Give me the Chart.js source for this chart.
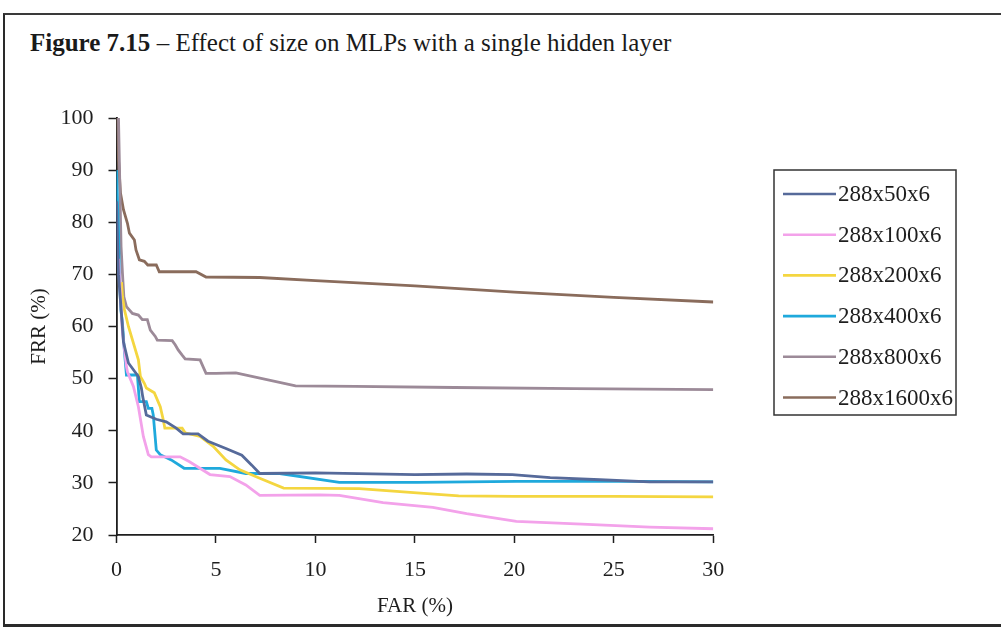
<!DOCTYPE html>
<html>
<head>
<meta charset="utf-8">
<script src="https://cdn.jsdelivr.net/npm/chart.js@4.4.1/dist/chart.umd.min.js"></script>
<style>
  html, body { margin: 0; padding: 0; background: #fff; }
  #page { position: relative; width: 1001px; height: 628px; overflow: hidden; background: #fff; }
  #frame { position: absolute; left: 3px; top: 13px; width: 1010px; height: 609px;
           border-left: 2px solid #2a2a2a; border-top: 2px solid #3a3a3a; border-bottom: 3px solid #2a2a2a; }
  #title { position: absolute; left: 30px; top: 29px; font-family: "Liberation Serif", serif;
           font-size: 25px; color: #1a1a1a; white-space: nowrap; }
  #title b { font-weight: bold; }
  canvas { position: absolute; left: 0; top: 0; }
</style>
</head>
<body>
<div id="page">
  <div id="frame"></div>
  <div id="title"><b>Figure 7.15</b> – Effect of size on MLPs with a single hidden layer</div>
  <canvas id="c" width="1001" height="628"></canvas>
</div>
<script>
// FAR (%) / FRR (%) operating points for each network size
const seriesLabels = ['288x50x6', '288x100x6', '288x200x6', '288x400x6', '288x800x6', '288x1600x6'];

const mlp50 = [[0,84],[0.1,70],[0.2,65],[0.35,57],[0.6,53],[1.1,50.4],[1.25,48.2],[1.32,46.5],[1.5,43],[2.0,42.2],[2.5,41.7],[3.0,40.5],[3.35,39.4],[4.1,39.4],[4.6,38],[5.5,36.6],[6.3,35.3],[6.8,33.4],[7.2,31.8],[10,31.9],[15,31.6],[17.6,31.7],[19.9,31.6],[21.8,31],[24.3,30.6],[26.8,30.2],[30,30.2]];
const mlp100 = [[0.1,73],[0.15,69],[0.2,66],[0.3,58.8],[0.5,52.3],[0.55,51.3],[0.85,48.5],[1.1,44.6],[1.35,38.9],[1.6,35.4],[1.75,35],[3.2,35],[3.65,34.1],[4.7,31.6],[5.7,31.2],[6.5,29.6],[7.2,27.6],[10.2,27.7],[11.2,27.6],[13.4,26.2],[15.9,25.3],[17.6,24.1],[20.1,22.6],[23.4,22.1],[26.8,21.5],[30,21.2]];
const mlp200 = [[0.25,68.5],[0.3,65.7],[0.4,63.2],[0.6,60],[0.85,56.8],[1.1,53.6],[1.2,50.4],[1.4,49.1],[1.5,48.2],[1.9,47.3],[2.2,44.6],[2.35,42.1],[2.43,40.5],[3.3,40.5],[3.45,39.6],[4.2,38.9],[4.86,37],[5.5,34.4],[6.2,32.5],[7.2,30.9],[8.4,29],[12.2,28.9],[15.1,28.1],[17.2,27.5],[20,27.4],[25,27.4],[30,27.3]];
const mlp400 = [[0,90],[0.05,84],[0.1,78.5],[0.15,69],[0.22,63.2],[0.3,60.6],[0.38,56.1],[0.5,50.7],[1.05,50.7],[1.15,45.6],[1.5,45.6],[1.6,44.3],[1.78,44.3],[1.85,43],[2.0,36.3],[2.2,35.4],[2.75,34.4],[3.4,32.8],[5.2,32.8],[6.5,31.8],[8.2,31.8],[11.2,30.1],[15.1,30.1],[20.1,30.3],[26.2,30.3],[30,30.2]];
const mlp800 = [[0.1,100],[0.23,75.3],[0.3,70.2],[0.37,65.7],[0.5,63.8],[0.8,62.5],[1.1,62.2],[1.3,61.3],[1.55,61.3],[1.7,59.3],[1.95,58.1],[2.05,57.4],[2.8,57.3],[2.95,56.5],[3.1,55.5],[3.3,54.5],[3.45,53.8],[4.2,53.6],[4.5,51],[5.0,51],[6.0,51.1],[9.0,48.6],[12,48.5],[17,48.3],[23,48.1],[30,47.9]];
const mlp1600 = [[0.05,100],[0.1,92],[0.2,85.6],[0.35,82.4],[0.55,79.8],[0.65,77.9],[0.9,76.6],[0.98,74.7],[1.15,72.8],[1.4,72.5],[1.57,71.8],[2.0,71.8],[2.15,70.5],[4.0,70.5],[4.5,69.5],[7.2,69.4],[10,68.8],[15,67.8],[20,66.6],[25,65.6],[30,64.7]];

const seriesPoints = [mlp50, mlp100, mlp200, mlp400, mlp800, mlp1600];
const seriesColors = ['#566a9a', '#f3a2ea', '#f4d640', '#1fa9dc', '#9c8a98', '#8a6c5c'];

const farTicks = [0, 5, 10, 15, 20, 25, 30];
const frrTicks = [20, 30, 40, 50, 60, 70, 80, 90, 100];

const SERIF = '"Liberation Serif", "Times New Roman", serif';
const INK = '#1e1e1e';

// Boxed legend on the right, built from the datasets themselves
const boxedLegend = {
  id: 'boxedLegend',
  afterDraw(chart) {
    const ctx = chart.ctx;
    const left = 774, top = 170, width = 182, height = 245;
    ctx.save();
    ctx.strokeStyle = '#333';
    ctx.lineWidth = 1.5;
    ctx.strokeRect(left, top, width, height);
    ctx.font = '23px ' + SERIF;
    ctx.textBaseline = 'middle';
    ctx.textAlign = 'left';
    chart.data.datasets.forEach((ds, i) => {
      const y = 194 + i * 40.7;
      ctx.strokeStyle = ds.borderColor;
      ctx.lineWidth = 2.6;
      ctx.beginPath();
      ctx.moveTo(783, y);
      ctx.lineTo(836, y);
      ctx.stroke();
      ctx.fillStyle = INK;
      ctx.fillText(ds.label, 838, y + 1);
    });
    ctx.restore();
  }
};

new Chart(document.getElementById('c'), {
  type: 'scatter',
  data: {
    datasets: seriesPoints.map((pts, i) => ({
      label: seriesLabels[i],
      data: pts.map(([x, y]) => ({ x, y })),
      showLine: true,
      borderColor: seriesColors[i],
      backgroundColor: seriesColors[i],
      borderWidth: 2.8,
      pointRadius: 0,
      tension: 0
    }))
  },
  options: {
    responsive: false,
    animation: false,
    events: [],
    layout: { padding: { left: 0, top: 118, right: 287.7, bottom: 0 } },
    plugins: { legend: { display: false }, tooltip: { enabled: false } },
    scales: {
      x: {
        type: 'linear', min: 0, max: 30,
        afterBuildTicks(scale) { scale.ticks = farTicks.map(v => ({ value: v })); },
        afterFit(scale) { scale.height = 93; },
        grid: { drawOnChartArea: false, drawTicks: true, tickLength: 8, color: INK, tickWidth: 1.5 },
        border: { display: true, color: INK, width: 1.8 },
        ticks: { padding: 14, color: INK, font: { family: SERIF, size: 22 } },
        title: { display: true, text: 'FAR (%)', color: INK, padding: { top: 0, bottom: 9 },
                 font: { family: SERIF, size: 21 } }
      },
      y: {
        type: 'linear', min: 20, max: 100,
        afterBuildTicks(scale) { scale.ticks = frrTicks.map(v => ({ value: v })); },
        afterFit(scale) { scale.width = 116.5; },
        grid: { drawOnChartArea: false, drawTicks: true, tickLength: 8, color: INK, tickWidth: 1.5 },
        border: { display: true, color: INK, width: 1.8 },
        ticks: { padding: 15, color: INK, font: { family: SERIF, size: 22 } },
        title: { display: true, text: 'FRR (%)', color: INK, padding: { top: 27, bottom: 0 },
                 font: { family: SERIF, size: 21 } }
      }
    }
  },
  plugins: [boxedLegend]
});
</script>
</body>
</html>
